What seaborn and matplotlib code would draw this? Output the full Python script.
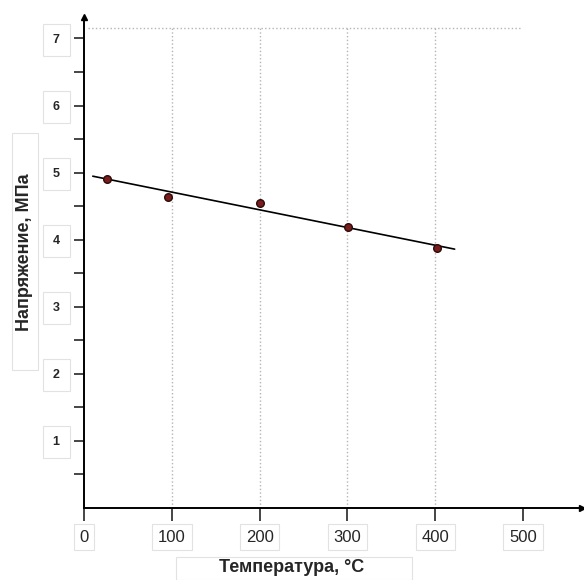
import numpy as np
import pandas as pd
import matplotlib
matplotlib.use("Agg")
import matplotlib.pyplot as plt
from matplotlib.patches import Rectangle
import seaborn as sns

# data
temperature = [26, 96, 200, 301, 402]
stress = [4.91, 4.64, 4.55, 4.19, 3.87]
fit_range = [10, 422]
x_ticks = [0, 100, 200, 300, 400, 500]
y_ticks = [1, 2, 3, 4, 5, 6, 7]
grid_x = [100, 200, 300, 400]
grid_top = 7.15

sns.set_style("white")
plt.rcParams['font.family'] = ['Liberation Sans', 'DejaVu Sans']

df = pd.DataFrame({"T": temperature, "sigma": stress})
slope, intercept = np.polyfit(df["T"], df["sigma"], 1)
fit_x = np.array(fit_range, dtype=float)
fit_df = pd.DataFrame({"T": fit_x, "sigma": intercept + slope * fit_x})

W, H = 584, 580
fig = plt.figure(figsize=(W / 100, H / 100), dpi=100)
ax = fig.add_axes([84 / W, 1 - 508 / H, 498 / W, 491 / H])

# dotted grid (top line and verticals)
ax.plot([5, 498], [grid_top, grid_top], ls=":", color="#b5b5b5", lw=1, zorder=0)
ax.vlines(grid_x, 0, grid_top, linestyles=":", colors="#b5b5b5", lw=1, zorder=0)

sns.lineplot(data=fit_df, x="T", y="sigma", ax=ax, color="black", lw=1.2)
sns.scatterplot(data=df, x="T", y="sigma", ax=ax, color="#7b1c1c",
                edgecolor="#2a0a0a", linewidth=1, s=30, zorder=5)

ax.set_xlim(0, 567)
ax.set_ylim(0, 7.32)
ax.set_xticks(x_ticks)
ax.set_yticks(y_ticks)
ax.set_yticks(np.arange(0.5, 7.5, 1.0), minor=True)

for side in ["top", "right"]:
    ax.spines[side].set_visible(False)
for side in ["left", "bottom"]:
    ax.spines[side].set_linewidth(1.4)
    ax.spines[side].set_color("black")

ax.tick_params(axis="y", which="major", direction="out", length=7.5, width=1.2,
               pad=10, labelsize=9, left=True)
ax.tick_params(axis="y", which="minor", direction="out", length=7.5, width=1.2, left=True)
ax.tick_params(axis="x", which="major", direction="out", length=9.5, width=1.2,
               pad=6, labelsize=12, bottom=True)

for lab in ax.get_yticklabels():
    lab.set_fontweight("bold")
    lab.set_bbox(dict(boxstyle="square,pad=0.8", facecolor="white",
                      edgecolor="#e2e2e2", lw=0.8))
for lab in ax.get_xticklabels():
    lab.set_bbox(dict(boxstyle="square,pad=0.35", facecolor="white",
                      edgecolor="#e2e2e2", lw=0.8))

ax.set_xlabel("Температура, °C", fontsize=13, fontweight="bold")
ax.set_ylabel("Напряжение, МПа", fontsize=13, fontweight="bold")
ax.xaxis.label.set_va("center")
ax.yaxis.label.set_va("center")
ax.xaxis.set_label_coords((292 - 84) / 498, (508 - 568) / 491)
ax.yaxis.set_label_coords((25 - 84) / 498, (508 - 252) / 491)

# light frames around the axis titles
fig.patches.append(Rectangle((176 / W, 0), 236 / W, (H - 557) / H, transform=fig.transFigure,
                             fill=False, edgecolor="#e2e2e2", lw=0.8))
fig.patches.append(Rectangle((12 / W, 1 - 370 / H), 26 / W, 237 / H, transform=fig.transFigure,
                             fill=False, edgecolor="#e2e2e2", lw=0.8))

# axis arrows
ax.plot(0, 1, marker="^", color="black", markersize=5, transform=ax.transAxes, clip_on=False)
ax.plot(1, 0, marker=">", color="black", markersize=5, transform=ax.transAxes, clip_on=False)

fig.savefig("out.png", dpi=100)
